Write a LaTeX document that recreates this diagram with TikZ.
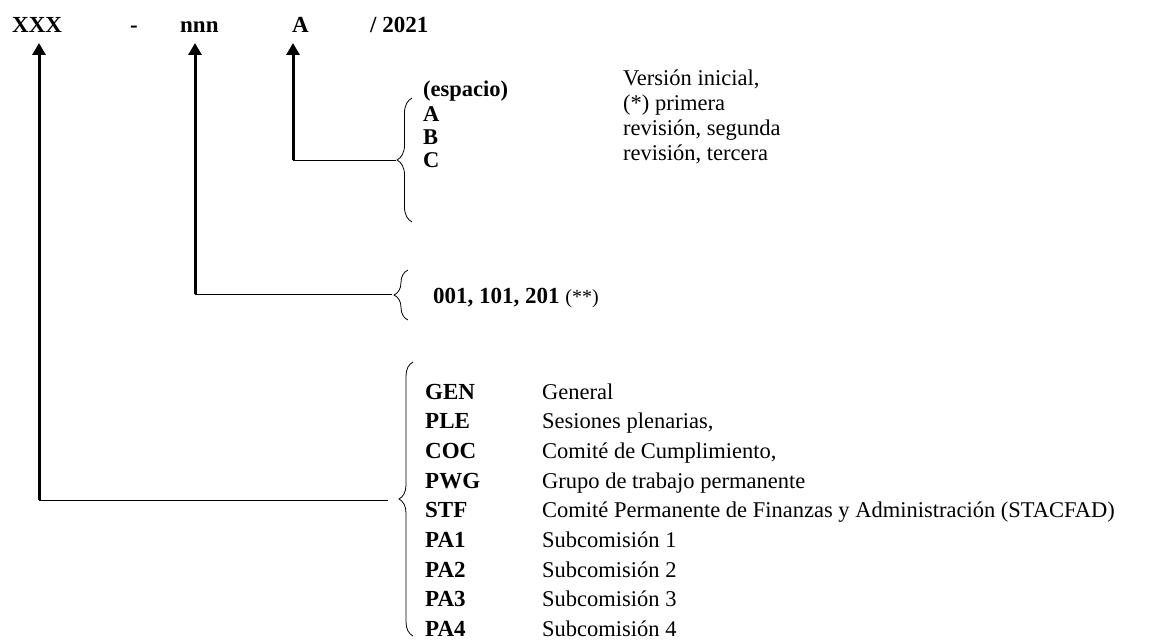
\documentclass[tikz,border=0pt]{standalone}
\usepackage{fontspec}
\setmainfont{Liberation Serif}
\usetikzlibrary{arrows.meta,decorations.pathreplacing}
\begin{document}
\begin{tikzpicture}[x=1pt,y=-1pt,
  topcode/.style={anchor=base west, inner sep=0pt, font=\fontsize{23}{27}\selectfont\bfseries},
  vcode/.style={anchor=base west, inner sep=0pt, font=\fontsize{22.5}{26}\selectfont\bfseries},
  lcode/.style={anchor=base west, inner sep=0pt, font=\fontsize{23}{27}\selectfont\bfseries},
  desc/.style={anchor=base west, inner sep=0pt, font=\fontsize{22.5}{26}\selectfont},
  ptr/.style={line width=3pt, -{Triangle[width=13pt,length=12pt]}},
  link/.style={line width=0.9pt},
  brc/.style={decorate, decoration={brace, amplitude=#1}, line width=0.8pt}
]
\useasboundingbox (0,0) rectangle (1166,642);

% top row
\node[topcode] (xxx) at (12,33) {XXX};
\node[topcode] (dash) at (130,33) {-};
\node[topcode] (nnn) at (180,33) {nnn};
\node[topcode] (ver) at (292,33) {A};
\node[topcode] (yr) at (370,33) {/ 2021};

% arrow ends
\coordinate (xtip) at (39,43);
\coordinate (xcorner) at (39,500);
\coordinate (ntip) at (195,43);
\coordinate (ncorner) at (195,294);
\coordinate (atip) at (293,43);
\coordinate (acorner) at (293,160);

% brace ends
\coordinate (abtip) at (396,160);
\coordinate (abtop) at (412,98);
\coordinate (abbot) at (412,222);
\coordinate (nbtip) at (392,294);
\coordinate (nbtop) at (408,270);
\coordinate (nbbot) at (408,320);
\coordinate (xbtip) at (388,500);
\coordinate (xbtop) at (413,362);
\coordinate (xbbot) at (413,636);

% connectors
\draw[link] (acorner) -- (abtip);
\draw[link] (ncorner) -- (nbtip);
\draw[link] (xcorner) -- (xbtip);
\draw[ptr] ([yshift=0.5pt]acorner) -- (atip);
\draw[ptr] ([yshift=0.5pt]ncorner) -- (ntip);
\draw[ptr] ([yshift=0.5pt]xcorner) -- (xtip);

% braces
\draw[brc=15pt] (abbot) -- (abtop);
\draw[brc=14pt] (nbbot) -- (nbtop);
\draw[brc=14pt] (xbbot) -- (xbtop);

% version block
\node[vcode] (esp) at (423,96) {(espacio)};
\node[vcode] (va) at (423,121) {A};
\node[vcode] (vb) at (423,144) {B};
\node[vcode] (vc) at (423,167) {C};
\node[desc] (r1) at (623,85) {Versión inicial,};
\node[desc] (r2) at (623,110) {(*) primera};
\node[desc] (r3) at (623,135) {revisión, segunda};
\node[desc] (r4) at (623,160) {revisión, tercera};

% number block
\node[lcode] (num) at (433,303) {001, 101, 201~{\mdseries\fontsize{20}{24}\selectfont(**)}};

% category block
\foreach \c/\d [count=\i from 0] in {GEN/General, PLE/{Sesiones plenarias,}, COC/{Comité de Cumplimiento,}, PWG/Grupo de trabajo permanente, STF/Comité Permanente de Finanzas y Administración (STACFAD), PA1/Subcomisión 1, PA2/Subcomisión 2, PA3/Subcomisión 3, PA4/Subcomisión 4}{
  \node[lcode] (c\i) at (425,{399+29.7*\i}) {\c};
  \node[desc] (d\i) at (542,{399+29.7*\i}) {\d};
}
\end{tikzpicture}
\end{document}
